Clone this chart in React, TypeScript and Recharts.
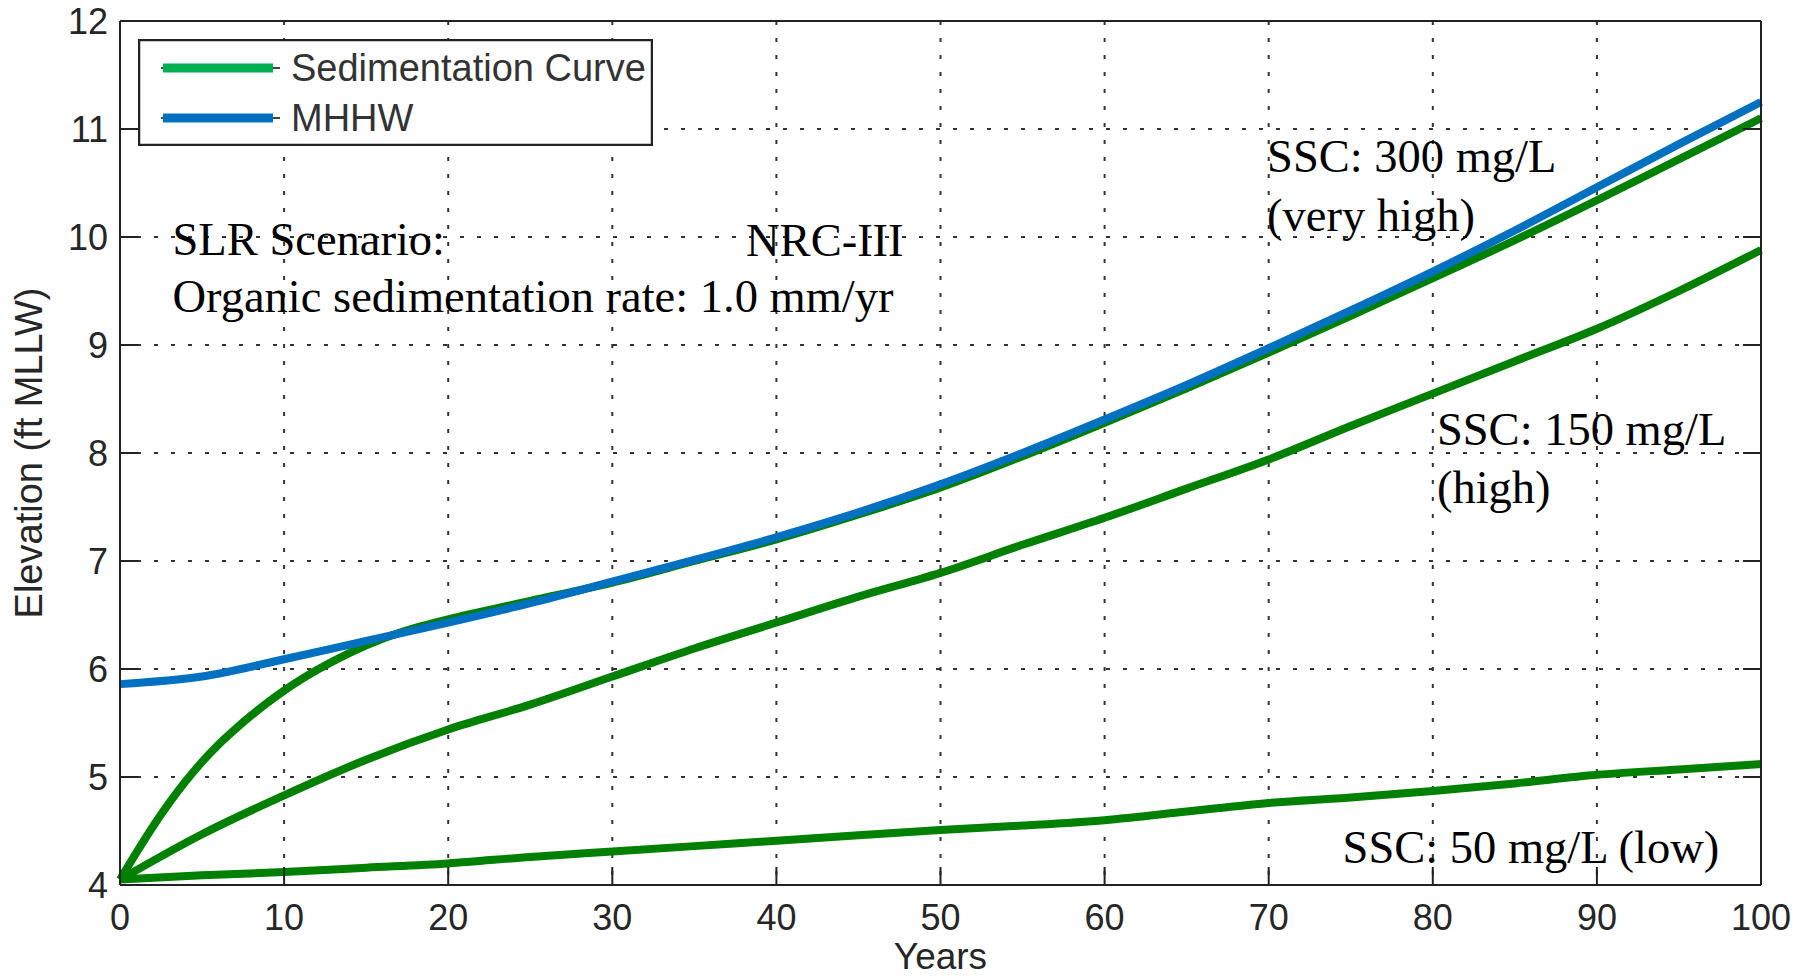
import {
  LineChart,
  Line,
  XAxis,
  YAxis,
  CartesianGrid,
  Legend,
  ReferenceDot,
  Label,
} from "recharts";

// axis ticks
const xTicks = [0, 10, 20, 30, 40, 50, 60, 70, 80, 90, 100];
const yTicks = [4, 5, 6, 7, 8, 9, 10, 11, 12];

// years sampled every 5 yr
const years = [0, 5, 10, 15, 20, 25, 30, 35, 40, 45, 50, 55, 60, 65, 70, 75, 80, 85, 90, 95, 100];
const mhhw = [5.86, 5.93, 6.09, 6.26, 6.43, 6.61, 6.81, 7.01, 7.22, 7.45, 7.71, 8.0, 8.31, 8.63, 8.97, 9.32, 9.68, 10.06, 10.46, 10.86, 11.25];
const ssc150 = [4.05, 4.47, 4.83, 5.16, 5.44, 5.67, 5.93, 6.19, 6.43, 6.67, 6.89, 7.15, 7.4, 7.67, 7.94, 8.25, 8.55, 8.85, 9.15, 9.5, 9.88];
const ssc50 = [4.05, 4.09, 4.12, 4.16, 4.2, 4.26, 4.31, 4.36, 4.41, 4.46, 4.51, 4.55, 4.6, 4.68, 4.76, 4.81, 4.87, 4.94, 5.02, 5.07, 5.12];

// the 300 mg/L curve rises fast at first, so it is sampled finer there
const ssc300Years = [0, 1, 2, 3, 4, 5, 6, 7, 8, 9, 10, 12, 14, 16, 18, 20, 25, 30, 35, 40, 45, 50, 55, 60, 65, 70, 75, 80, 85, 90, 95, 100];
const ssc300 = [4.05, 4.3, 4.54, 4.76, 4.96, 5.14, 5.3, 5.44, 5.57, 5.69, 5.8, 5.99, 6.15, 6.28, 6.38, 6.46, 6.63, 6.8, 7.0, 7.2, 7.43, 7.68, 7.97, 8.28, 8.6, 8.93, 9.27, 9.62, 9.97, 10.34, 10.72, 11.1];

// text placed at (year, elevation)
const annotations = [
  { text: "SLR Scenario:", year: 3.2, elev: 9.83 },
  { text: "NRC-III", year: 38.15, elev: 9.82 },
  { text: "Organic sedimentation rate: 1.0 mm/yr", year: 3.2, elev: 9.31 },
  { text: "SSC: 300 mg/L", year: 69.9, elev: 10.6 },
  { text: "(very high)", year: 69.9, elev: 10.06 },
  { text: "SSC: 150 mg/L", year: 80.25, elev: 8.07 },
  { text: "(high)", year: 80.25, elev: 7.54 },
  { text: "SSC: 50 mg/L (low)", year: 74.5, elev: 4.2 },
];

const toPoints = (xs: number[], ys: number[]) =>
  xs.map((year, i) => ({ year, value: ys[i] }));

const GREEN = "#008000";
const BLUE = "#0070C0";
const INK = "#222222";
const SANS = "'Liberation Sans', Arial, sans-serif";
const SERIF = "'Liberation Serif', 'Times New Roman', serif";

// legend order and swatch colours as in the original figure
const legendOrder = ["Sedimentation Curve", "MHHW"];
const legendSwatch: Record<string, string> = {
  "Sedimentation Curve": "#00B050",
  MHHW: BLUE,
};

const LegendBox = (props: any) => {
  const payload = props.payload || [];
  const items = legendOrder
    .map((name) => payload.find((p: any) => p.value === name))
    .filter(Boolean);
  return (
    <svg width={515} height={107} style={{ display: "block" }}>
      <rect x={1} y={1} width={513} height={105} fill="#fff" stroke={INK} strokeWidth={2.5} />
      {items.map((entry: any, i: number) => {
        const cy = 29 + i * 50;
        return (
          <g key={entry.value}>
            <line x1={23} x2={142} y1={cy} y2={cy} stroke="#444" strokeWidth={2} />
            <line x1={25} x2={135} y1={cy} y2={cy} stroke={legendSwatch[entry.value]} strokeWidth={9} />
            <text x={153} y={cy + 13} fontFamily={SANS} fontSize={38} fill="#333">
              {entry.value}
            </text>
          </g>
        );
      })}
    </svg>
  );
};

const annotationShape = (text: string) => (props: any) => (
  <text x={props.cx} y={props.cy} fontFamily={SERIF} fontSize={46.5} fill="#000">
    {text}
  </text>
);

const axisLine = { stroke: INK, strokeWidth: 2 };
const tickStyle = { fill: "#262626", fontSize: 36, fontFamily: SANS };

export default function App() {
  return (
    <div style={{ position: "absolute", left: 0, top: 0, background: "#fff" }}>
      <LineChart
        width={1806}
        height={978}
        margin={{ top: 20, right: 44, bottom: 33, left: 0 }}
      >
        <CartesianGrid stroke="#333" strokeWidth={2} strokeDasharray="4 13" />
        <XAxis
          dataKey="year"
          type="number"
          domain={[0, 100]}
          ticks={xTicks}
          height={60}
          tickSize={-18}
          tickMargin={37}
          axisLine={axisLine}
          tickLine={axisLine}
          tick={tickStyle}
        >
          <Label value="Years" position="bottom" offset={-2} fill="#262626" fontSize={37} fontFamily={SANS} />
        </XAxis>
        <XAxis
          xAxisId="top"
          orientation="top"
          type="number"
          domain={[0, 100]}
          allowDataOverflow
          ticks={xTicks}
          height={1}
          tickSize={-18}
          axisLine={axisLine}
          tickLine={axisLine}
          tickFormatter={() => ""}
        />
        <YAxis
          type="number"
          domain={[4, 12]}
          ticks={yTicks}
          width={120}
          tickSize={-18}
          tickMargin={30}
          axisLine={axisLine}
          tickLine={axisLine}
          tick={tickStyle}
        >
          <Label
            value="Elevation (ft MLLW)"
            angle={-90}
            position="insideLeft"
            offset={29}
            fill="#262626"
            fontSize={38}
            fontFamily={SANS}
            style={{ textAnchor: "middle" }}
          />
        </YAxis>
        <YAxis
          yAxisId="right"
          orientation="right"
          type="number"
          domain={[4, 12]}
          allowDataOverflow
          ticks={yTicks}
          width={1}
          tickSize={-18}
          axisLine={axisLine}
          tickLine={axisLine}
          tickFormatter={() => ""}
        />
        <Legend
          layout="vertical"
          align="center"
          verticalAlign="middle"
          content={<LegendBox />}
          wrapperStyle={{ left: 138, top: 39, width: 515, height: 107 }}
        />
        <Line
          data={toPoints(years, ssc50)}
          dataKey="value"
          type="monotone"
          stroke={GREEN}
          strokeWidth={8}
          dot={false}
          legendType="none"
          isAnimationActive={false}
        />
        <Line
          data={toPoints(years, ssc150)}
          dataKey="value"
          type="monotone"
          stroke={GREEN}
          strokeWidth={8}
          dot={false}
          legendType="none"
          isAnimationActive={false}
        />
        <Line
          data={toPoints(ssc300Years, ssc300)}
          dataKey="value"
          name="Sedimentation Curve"
          type="monotone"
          stroke={GREEN}
          strokeWidth={8}
          dot={false}
          isAnimationActive={false}
        />
        <Line
          data={toPoints(years, mhhw)}
          dataKey="value"
          name="MHHW"
          type="monotone"
          stroke={BLUE}
          strokeWidth={8}
          dot={false}
          isAnimationActive={false}
        />
        {annotations.map((a) => (
          <ReferenceDot
            key={a.text}
            x={a.year}
            y={a.elev}
            r={0}
            shape={annotationShape(a.text)}
          />
        ))}
      </LineChart>
    </div>
  );
}
